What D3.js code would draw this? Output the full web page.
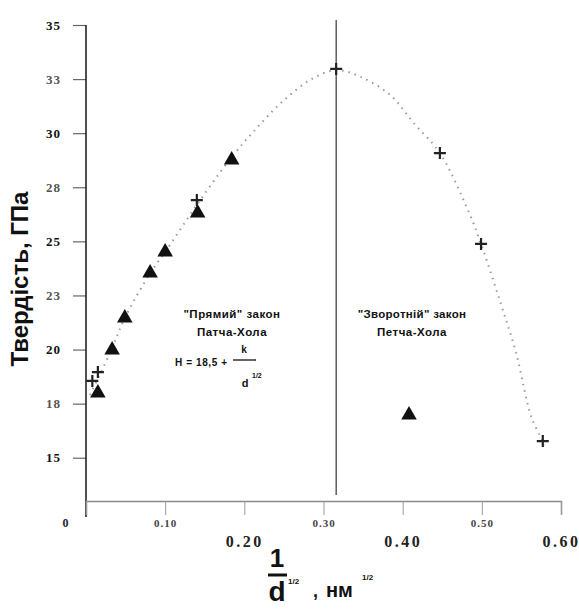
<!DOCTYPE html>
<html>
<head>
<meta charset="utf-8">
<script src="https://cdn.jsdelivr.net/npm/d3@7"></script>
<style>
  html, body { margin: 0; padding: 0; background: #fff; }
  svg { display: block; }
</style>
</head>
<body>
<div id="chart"></div>
<script>
// x = 1/d^1/2 (нм^-1/2), y = твердість (ГПа)
const triangleX = [0.015, 0.033, 0.049, 0.081, 0.100, 0.141, 0.184, 0.408];
const triangleY = [17.99, 19.98, 21.46, 23.54, 24.51, 26.31, 28.76, 16.97];

const crossX = [0.008, 0.015, 0.140, 0.316, 0.447, 0.499, 0.577];
const crossY = [18.55, 18.96, 26.91, 32.97, 29.08, 24.88, 15.77];

// dotted trend curve
const curveX = [0.005, 0.032, 0.049, 0.082, 0.100, 0.140, 0.183, 0.217, 0.249, 0.285, 0.316,
  0.347, 0.384, 0.416, 0.447, 0.484, 0.499, 0.522, 0.543, 0.563, 0.580];
const curveY = [17.9, 19.98, 21.46, 23.58, 24.51, 26.68, 28.85, 30.29, 31.49, 32.50, 32.92,
  32.60, 31.77, 30.38, 29.08, 26.31, 24.88, 22.34, 19.89, 16.84, 15.59];

const peakX = 0.316;

const yTicks = [15, 17.5, 20, 22.5, 25, 27.5, 30, 32.5, 35];
const xTicks = [0, 0.1, 0.2, 0.3, 0.4, 0.5, 0.6];

const width = 579;
const height = 612;

const svg = d3.select("#chart")
  .append("svg")
  .attr("width", width)
  .attr("height", height);

const x = d3.scaleLinear().domain([0, 0.6]).range([86, 561]);
const y = d3.scaleLinear().domain([13, 35]).range([501, 25]);

const serif = "'Liberation Serif', 'DejaVu Serif', serif";
const sans = "'Liberation Sans', Arial, sans-serif";

// y axis
const yAxis = svg.append("g")
  .attr("transform", `translate(${x(0)},0)`)
  .call(d3.axisLeft(y).tickValues(yTicks).tickSize(13).tickPadding(12)
    .tickFormat(d => Math.round(d)));
yAxis.select(".domain").remove();
yAxis.selectAll(".tick line").attr("stroke", "#666").attr("stroke-width", 1.2);
yAxis.selectAll(".tick text")
  .style("font-family", serif)
  .style("font-size", "13px")
  .style("font-weight", "bold")
  .style("letter-spacing", "1px")
  .style("fill", d => Number.isInteger(d / 5) ? "#111" : "#555");

svg.append("line")
  .attr("x1", x(0)).attr("x2", x(0))
  .attr("y1", y(35)).attr("y2", 517)
  .attr("stroke", "#222").attr("stroke-width", 1.6);

// x axis
const xAxis = svg.append("g")
  .attr("transform", `translate(0,${y(13)})`)
  .call(d3.axisBottom(x).tickValues(xTicks).tickSize(14)
    .tickFormat(d => d === 0 ? "0" : d3.format(".2f")(d)));
xAxis.select(".domain").attr("stroke", "#888").attr("stroke-width", 1.5);
xAxis.selectAll(".tick line").attr("stroke", "#999").attr("stroke-width", 1);
xAxis.selectAll(".tick text")
  .style("font-family", serif)
  .style("font-weight", "bold")
  .style("fill", "#222")
  .each(function (d, i) {
    const t = d3.select(this);
    if (i === 0) {
      t.attr("x", -21).attr("y", 17).attr("dy", "0.71em").style("font-size", "12px");
    } else if (i % 2 === 1) {
      t.attr("y", 18).attr("dy", "0.71em").style("font-size", "11px")
        .style("letter-spacing", "1px").style("fill", "#444");
    } else {
      t.attr("y", 35).attr("dy", "0.71em").style("font-size", "16px")
        .style("letter-spacing", "2.5px");
    }
  });

// vertical line at the peak
svg.append("line")
  .attr("x1", x(peakX)).attr("x2", x(peakX))
  .attr("y1", 20).attr("y2", 495)
  .attr("stroke", "#333").attr("stroke-width", 1.2);

// dotted curve
const curvePts = curveX.map((v, i) => [v, curveY[i]]);
svg.append("path")
  .datum(curvePts)
  .attr("fill", "none")
  .attr("stroke", "#999")
  .attr("stroke-width", 2)
  .attr("stroke-dasharray", "1.5,5")
  .attr("d", d3.line().x(d => x(d[0])).y(d => y(d[1])).curve(d3.curveCatmullRom));

// triangles
svg.selectAll(".tri")
  .data(triangleX.map((v, i) => [v, triangleY[i]]))
  .enter()
  .append("path")
  .attr("class", "tri")
  .attr("transform", d => `translate(${x(d[0])},${y(d[1])})`)
  .attr("d", d3.symbol(d3.symbolTriangle).size(105))
  .attr("fill", "#111");

// crosses
svg.selectAll(".cross")
  .data(crossX.map((v, i) => [v, crossY[i]]))
  .enter()
  .append("path")
  .attr("class", "cross")
  .attr("transform", d => `translate(${x(d[0])},${y(d[1])})`)
  .attr("d", "M-6,0H6M0,-6V6")
  .attr("stroke", "#222")
  .attr("stroke-width", 2.2)
  .attr("fill", "none");

// annotations
function label(tx, ty, txt, size, anchor = "middle") {
  return svg.append("text")
    .attr("x", tx).attr("y", ty)
    .attr("text-anchor", anchor)
    .style("font-family", sans)
    .style("font-weight", "bold")
    .style("font-size", size + "px")
    .style("fill", "#111")
    .text(txt);
}

label(232, 318, "\"Прямий\" закон", 11.5).style("letter-spacing", "0.5px");
label(232, 336, "Патча-Хола", 11.5).style("letter-spacing", "0.5px");
label(412, 318, "\"Зворотній\" закон", 11.5).style("letter-spacing", "0.3px");
label(412, 336, "Петча-Хола", 11.5).style("letter-spacing", "0.5px");

label(175, 366, "H = 18,5 +", 10, "start").style("letter-spacing", "0.6px");
label(244, 353, "k", 10);
svg.append("line").attr("x1", 233).attr("x2", 256).attr("y1", 360).attr("y2", 360)
  .attr("stroke", "#111").attr("stroke-width", 1.3);
label(245, 387, "d", 11);
label(252, 378, "1/2", 7, "start");

// y title
svg.append("text")
  .attr("transform", "translate(28,279) rotate(-90)")
  .attr("text-anchor", "middle")
  .style("font-family", sans)
  .style("font-weight", "bold")
  .style("font-size", "24px")
  .style("fill", "#111")
  .text("Твердість, ГПа");

// x title
label(277, 567, "1", 26);
svg.append("line").attr("x1", 268).attr("x2", 287).attr("y1", 575).attr("y2", 575)
  .attr("stroke", "#111").attr("stroke-width", 3);
label(277, 601, "d", 28);
label(288, 584, "1/2", 8, "start");
label(313, 597, ",", 18, "start");
label(326, 597, "нм", 20, "start");
label(362, 580, "1/2", 8, "start");
</script>
</body>
</html>
